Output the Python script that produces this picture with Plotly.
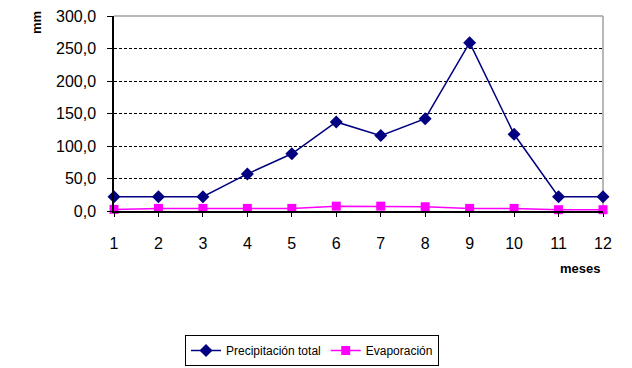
import plotly.graph_objects as go

meses = list(range(1, 13))
precipitacion = [22, 22, 22, 57, 88, 137, 116, 142, 259, 118, 22, 22]
evaporacion = [2.5, 4, 4, 4, 4, 7.5, 7.5, 6.5, 4, 4, 2, 2]
y_ticks = [0, 50, 100, 150, 200, 250, 300]
y_labels = ["0,0", "50,0", "100,0", "150,0", "200,0", "250,0", "300,0"]

FONT = "Liberation Sans, Arial, sans-serif"

fig = go.Figure()
fig.add_trace(go.Scatter(
    x=meses, y=precipitacion, name="Precipitación total", mode="lines+markers",
    line=dict(color="#000080", width=1.5),
    marker=dict(symbol="diamond", size=10, color="#000080"),
    cliponaxis=False,
))
fig.add_trace(go.Scatter(
    x=meses, y=evaporacion, name="Evaporación", mode="lines+markers",
    line=dict(color="#FF00FF", width=1.5),
    marker=dict(symbol="square", size=9, color="#FF00FF"),
    cliponaxis=False,
))

fig.update_layout(
    width=632, height=368,
    margin=dict(l=114, r=29, t=16, b=157),
    paper_bgcolor="white", plot_bgcolor="white",
    font=dict(family=FONT, color="black"),
    showlegend=True,
    legend=dict(
        orientation="h", xref="container", yref="container",
        x=312 / 632, xanchor="center", y=1 - 335 / 368, yanchor="top",
        bordercolor="black", borderwidth=1, font=dict(size=12, family=FONT),
        itemwidth=30, bgcolor="white", tracegroupgap=0,
    ),
    xaxis=dict(
        range=[1, 12], tickmode="array", tickvals=meses,
        ticktext=[str(m) for m in meses], automargin=False,
        showgrid=False, zeroline=False, showline=True, linecolor="black", linewidth=1.5,
        ticks="outside", ticklen=4, tickcolor="black",
        tickfont=dict(size=16, family=FONT), ticklabelstandoff=13,
    ),
    yaxis=dict(
        range=[0, 300], tickmode="array", tickvals=y_ticks, ticktext=y_labels,
        automargin=False,
        showgrid=True, gridcolor="black", griddash="3px,2px", gridwidth=1,
        zeroline=False, showline=True, linecolor="black", linewidth=1.5,
        ticks="outside", ticklen=5, tickcolor="black",
        tickfont=dict(size=16, family=FONT), ticklabelstandoff=8,
    ),
    shapes=[
        dict(type="line", xref="paper", yref="paper", x0=0, x1=1, y0=1, y1=1,
             line=dict(color="#A0A0A0", width=1.5), layer="above"),
        dict(type="line", xref="paper", yref="paper", x0=1, x1=1, y0=0, y1=1,
             line=dict(color="#A0A0A0", width=1.5), layer="below"),
    ],
    annotations=[
        dict(text="<b>mm</b>", xref="paper", yref="paper", x=(37 - 114) / 489, y=(211 - 23) / 195,
             showarrow=False, textangle=-90, font=dict(size=13, family=FONT),
             xanchor="center", yanchor="middle"),
        dict(text="<b>meses</b>", xref="paper", yref="paper", x=(580 - 114) / 489, y=(211 - 268) / 195,
             showarrow=False, font=dict(size=13, family=FONT),
             xanchor="center", yanchor="middle"),
    ],
)

fig.write_html("out.html")
